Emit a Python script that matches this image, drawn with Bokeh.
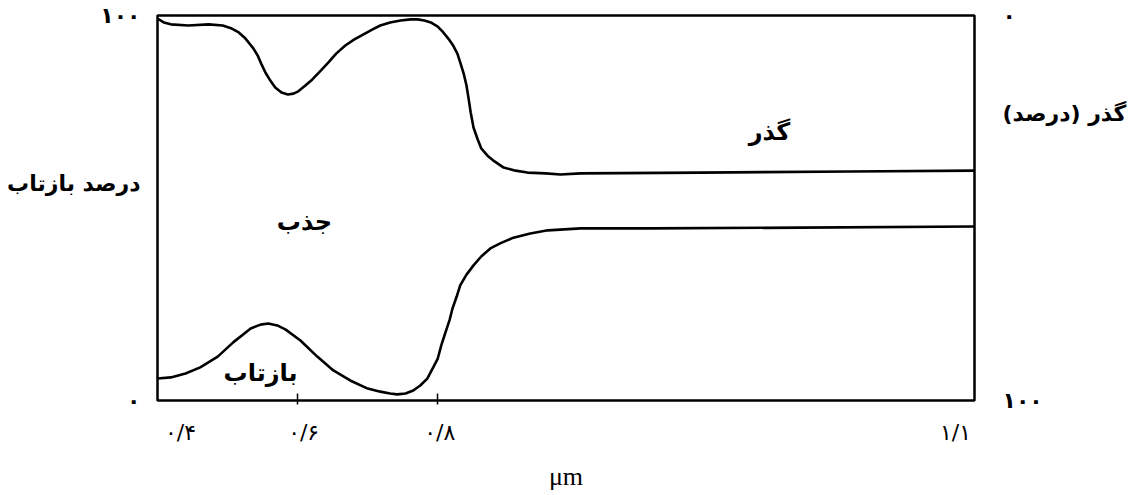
from bokeh.plotting import figure
from bokeh.models import Range1d, LinearAxis, FixedTicker, Label
from bokeh.embed import file_html
from bokeh.resources import INLINE

# ---------------- data ----------------
# x in the drawing's wavelength scale (µm); right edge of the frame is labelled 1.1
upper_x = [0.400, 0.409, 0.419, 0.444, 0.473, 0.493, 0.506, 0.516, 0.524, 0.530,
           0.537, 0.543, 0.548, 0.554, 0.561, 0.568, 0.577, 0.586, 0.594, 0.601,
           0.611, 0.621, 0.633, 0.644, 0.655, 0.668, 0.681, 0.694, 0.707, 0.718,
           0.732, 0.747, 0.761, 0.771, 0.781, 0.790, 0.800, 0.808, 0.815, 0.822,
           0.828, 0.832, 0.837, 0.841, 0.844, 0.847, 0.851, 0.857, 0.862, 0.871,
           0.881, 0.894, 0.911, 0.928, 0.954, 0.975, 1.004, 1.175, 1.389, 1.566]
upper_y = [99.2, 98.2, 97.7, 97.4, 97.7, 97.4, 96.6, 95.6, 94.3, 93.0,
           91.4, 89.6, 87.5, 85.2, 83.1, 81.3, 80.0, 79.5, 79.7, 80.3,
           81.8, 83.4, 85.7, 87.8, 90.1, 92.2, 93.8, 95.1, 96.4, 97.4,
           98.2, 98.7, 99.0, 99.0, 98.7, 98.2, 97.1, 95.6, 94.0, 92.2,
           90.1, 87.8, 84.9, 81.8, 78.4, 74.8, 70.9, 67.8, 65.5, 63.6,
           62.1, 60.5, 59.7, 59.2, 59.0, 58.7, 59.0, 59.2, 59.5, 59.7]

lower_x = [0.400, 0.419, 0.440, 0.461, 0.486, 0.508, 0.533, 0.547, 0.558, 0.571,
           0.583, 0.604, 0.628, 0.651, 0.675, 0.700, 0.718, 0.732, 0.742, 0.754,
           0.765, 0.775, 0.785, 0.792, 0.800, 0.805, 0.811, 0.817, 0.821, 0.827,
           0.832, 0.841, 0.851, 0.862, 0.875, 0.889, 0.908, 0.932, 0.957, 1.004,
           1.104, 1.318, 1.566]
lower_y = [5.7, 6.0, 7.0, 8.6, 11.4, 15.1, 18.7, 19.7, 20.0, 19.5,
           18.4, 15.6, 11.4, 7.8, 5.2, 3.1, 2.3, 1.8, 1.6, 1.8,
           2.6, 3.9, 5.7, 8.1, 10.9, 14.3, 17.7, 21.0, 23.9, 27.0,
           29.9, 32.7, 35.1, 37.4, 39.5, 40.8, 42.3, 43.4, 44.2, 44.7,
           44.7, 44.9, 45.2]

x_tick_values = [0.4, 0.6, 0.8, 1.566]
x_tick_labels = ["۰/۴", "۰/۶", "۰/۸", "۱/۱"]
x_marked_ticks = [0.6, 0.8]
refl_ticks = [0, 100]
refl_tick_labels = ["۰", "۱۰۰"]
trans_ticks = [0, 100]
trans_tick_labels = ["۰", "۱۰۰"]

left_title = "درصد بازتاب"
right_title = "گذر (درصد)\u200f"
x_title = "μm"
region_labels = ["گذر", "جذب", "بازتاب"]

# ---------------- layout ----------------
W, H = 1140, 495
FL, FR, FT, FB = 157, 974, 15, 400          # frame edges in canvas pixels
X0, X1 = 0.4, 1.566
Y0, Y1 = 0.0, 100.0
XPX = (X1 - X0) / (FR - FL)                 # data units per pixel (x)

FA = "DejaVu Sans"

p = figure(width=W, height=H, output_backend="svg", toolbar_location=None,
           x_range=Range1d(X0, X1), y_range=Range1d(Y0, Y1),
           x_axis_type=None, y_axis_type=None,
           min_border_left=FL, min_border_right=W - FR,
           min_border_top=FT, min_border_bottom=H - FB)
p.extra_y_ranges = {"T": Range1d(100, 0)}
p.outline_line_color = "black"
p.outline_line_width = 2.5
p.background_fill_color = "white"
p.border_fill_color = "white"

# bottom axis: marks at 0.6 / 0.8; labels sit slightly inside at the frame ends
x_label_shift_px = [23, 6, 2, -19]
x_label_pos = [round(v + d * XPX, 4) for v, d in zip(x_tick_values, x_label_shift_px)]
xa = LinearAxis(ticker=FixedTicker(ticks=x_label_pos, minor_ticks=x_marked_ticks),
                major_label_overrides={k: l for k, l in zip(x_label_pos, x_tick_labels)},
                axis_line_color=None, major_tick_line_color=None,
                minor_tick_in=7, minor_tick_out=4, minor_tick_line_width=1.5,
                minor_tick_line_color="black",
                major_label_standoff=13, major_label_text_font=FA,
                major_label_text_font_size="22px", major_label_text_color="black",
                axis_label=x_title, axis_label_text_font="Liberation Serif",
                axis_label_text_font_style="normal", axis_label_text_font_size="26px",
                axis_label_text_color="black", axis_label_standoff=14)
p.add_layout(xa, "below")

# left axis: reflectance (the side title rides on this axis as well)
left_title_v = round((FB - 183) / (FB - FT) * 100, 3)
ya = LinearAxis(ticker=FixedTicker(ticks=refl_ticks + [left_title_v]),
                major_label_overrides={**{t: l for t, l in zip(refl_ticks, refl_tick_labels)},
                                       left_title_v: left_title},
                axis_line_color=None, major_tick_line_color=None, minor_tick_line_color=None,
                major_label_standoff=11, major_label_text_font=FA,
                major_label_text_font_style="bold",
                major_label_text_font_size="22px", major_label_text_color="black")
p.add_layout(ya, "left")

# right axis: transmission (inverted), with its title
right_title_v = round((113 - FT) / (FB - FT) * 100, 3)
yr = LinearAxis(y_range_name="T", ticker=FixedTicker(ticks=trans_ticks + [right_title_v]),
                major_label_overrides={**{t: l for t, l in zip(trans_ticks, trans_tick_labels)},
                                       right_title_v: right_title},
                axis_line_color=None, major_tick_line_color=None, minor_tick_line_color=None,
                major_label_standoff=22, major_label_text_font=FA,
                major_label_text_font_style="bold",
                major_label_text_font_size="22px", major_label_text_color="black")
p.add_layout(yr, "right")

# curves
p.line(upper_x, upper_y, line_color="black", line_width=2.6, line_join="round")
p.line(lower_x, lower_y, line_color="black", line_width=2.6, line_join="round")

# region labels (inside the frame)
region_pos = [(769, 131), (304, 221), (260, 372)]
for lab, (px, py) in zip(region_labels, region_pos):
    p.add_layout(Label(x=px - FL, y=FB - py, x_units="screen", y_units="screen",
                       text=lab, text_font=FA, text_font_style="bold",
                       text_font_size="24px", text_align="center",
                       text_baseline="middle", text_color="black"))

open("out.html", "w").write(file_html(p, INLINE))
